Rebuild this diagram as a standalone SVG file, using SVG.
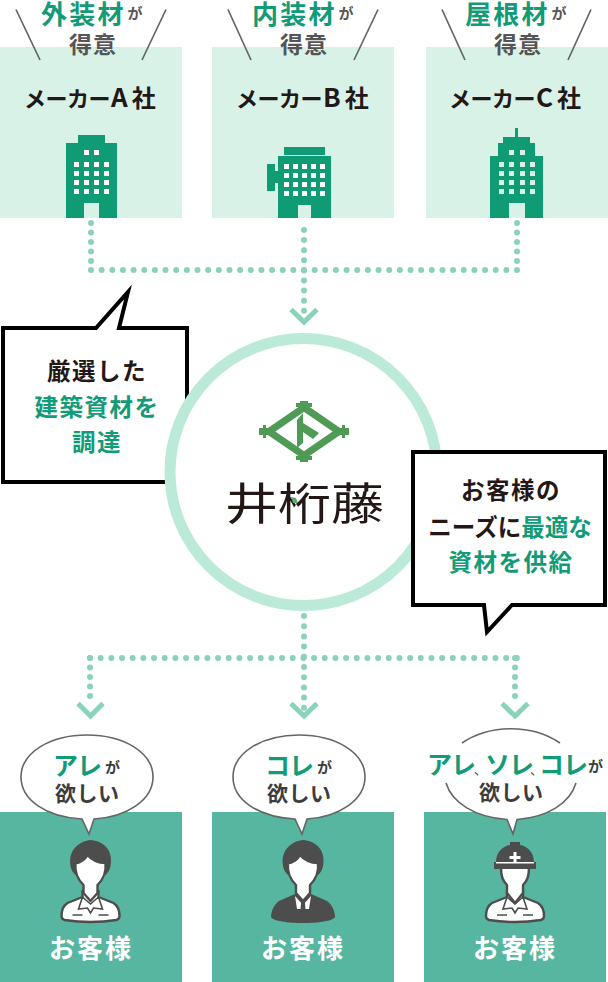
<svg xmlns="http://www.w3.org/2000/svg" xmlns:xlink="http://www.w3.org/1999/xlink" width="608" height="982" viewBox="0 0 608 982">
<style>
text{font-family:"Noto Sans CJK JP","Noto Sans",sans-serif;font-weight:700}
.top{fill:#d8f2e8}.bld{fill:#0f9b74}.win{fill:#fff}.cust{fill:#56b69f}
.g{fill:#119b77}.d{fill:#555}.k{fill:#231815}.w{fill:#fff}.s{fill:#3c3c3c}
.ray{stroke:#666;stroke-width:1.7;fill:none}
.dot{fill:none;stroke:#8ad2bb;stroke-width:6;stroke-linecap:round}
.chev{fill:none;stroke:#8ad2bb;stroke-width:5}
.say{fill:#fff;stroke:#000;stroke-width:4;stroke-miterlimit:10}
.ic{fill:#fff;stroke:#4d4d4d;stroke-width:2.4;stroke-linejoin:round}
.sb{fill:#fff;stroke:#666;stroke-width:1.6}
.ln{fill:none;stroke:#4d4d4d;stroke-width:1.6}
.dk{fill:#4d4d4d}
.t1{font-size:26px;letter-spacing:2.2px}
.ga{font-size:15px}
.t2{font-size:23px;letter-spacing:1px}
.kana{font-size:22px;letter-spacing:-.5px}
.co{font-size:23.5px;letter-spacing:1.5px;text-anchor:middle}
.tight{letter-spacing:0}
.big{font-size:25px;letter-spacing:-1px}
.want{font-size:21px;letter-spacing:.5px}
.okyaku{font-size:26px;letter-spacing:2px;text-anchor:middle}
</style>
<defs>
<g id="torso">
<path class="ic" d="M-8,50V56L-23,62Q-29,66 -29,75Q-29,78 -26,79Q0,83 26,79Q29,78 29,75Q29,66 23,62L8,56V50Z"/>
<path class="ln" d="M-8,56L-12,68L-3,67L0,72L3,67L12,68L8,56M-18,74H-8M8,74H18M-8,56L0,63L8,56"/>
</g>
<g id="head">
<path class="dk" d="M-20,25C-23,8 -10,0 0,-1C12,0 23,8 20,25C19,30 17,32 15,34H-15C-17,32 -19,30 -20,25Z"/>
<path class="ic" d="M-15,22C-10,22 -5,18 -3,14C2,20 10,22 15,22C16,31 13,38 7,44V52L0,60L-7,52V44C-13,38 -16,31 -15,22Z"/>
</g>
</defs>

<g id="connectors">
<path class="dot" d="M91,223V270" stroke-dasharray="0 9.5"/>
<path class="dot" d="M91,270H517" stroke-dasharray="0 10.65"/>
<path class="dot" d="M517,223V270" stroke-dasharray="0 9.5"/>
<path class="dot" d="M304,230V311" stroke-dasharray="0 10.1"/>
<path class="chev" d="M291,309.500L304,322L317,309.500"/>
<path class="dot" d="M304,616V708" stroke-dasharray="0 10.2"/>
<path class="dot" d="M90,658H517" stroke-dasharray="0 10.67"/>
<path class="dot" d="M90,658V704" stroke-dasharray="0 9.5"/>
<path class="dot" d="M515,658V704" stroke-dasharray="0 9.5"/>
<path class="chev" d="M78,703.500L90.500,716L103,703.500"/>
<path class="chev" d="M291,703.500L304,716L317,703.500"/>
<path class="chev" d="M502,703.500L515,716L528,703.500"/>
</g>

<g id="maker-a">
<rect class="top" x="0" y="47" width="182" height="171"/>
<path class="ray" d="M16,9.500L40,60M166,9.500L142,60"/>
<text x="41" y="24" class="t1 g">外装材<tspan class="ga d" dx="2" dy="-5">が</tspan></text>
<text x="69" y="53" class="t2 d">得意</text>
<text x="24" y="107" class="k"><tspan class="kana">メーカー</tspan><tspan font-size="26" dx="1">A</tspan><tspan font-size="24" dx="4">社</tspan></text>
<path class="bld" d="M66,143H78V135H105V143H117V218H99V203H84V218H66Z"/>
<path class="win" d="M84,150h5v5h-5zM94,150h5v5h-5zM74,162h5v5h-5zM84,162h5v5h-5zM94,162h5v5h-5zM104,162h5v5h-5zM74,171h5v5h-5zM84,171h5v5h-5zM94,171h5v5h-5zM104,171h5v5h-5zM74,180h5v5h-5zM84,180h5v5h-5zM94,180h5v5h-5zM104,180h5v5h-5zM74,189h5v5h-5zM84,189h5v5h-5zM94,189h5v5h-5zM104,189h5v5h-5z"/>
</g>

<g id="maker-b">
<rect class="top" x="212" y="47" width="182" height="171"/>
<path class="ray" d="M228,9.500L251,60M378,9.500L354,60"/>
<text x="252" y="24" class="t1 g">内装材<tspan class="ga d" dx="2" dy="-5">が</tspan></text>
<text x="280" y="53" class="t2 d">得意</text>
<text x="236" y="107" class="k"><tspan class="kana">メーカー</tspan><tspan font-size="26" dx="1">B</tspan><tspan font-size="24" dx="4">社</tspan></text>
<path class="bld" d="M284,147H325V155H284ZM278,156H331V218H311V205H298V218H278ZM267,164H275V171H278V183H275V191H267Z"/>
<path class="win" d="M284,164h5v5h-5zM293,164h5v5h-5zM302,164h5v5h-5zM311,164h5v5h-5zM320,164h5v5h-5zM284,173h5v5h-5zM293,173h5v5h-5zM302,173h5v5h-5zM311,173h5v5h-5zM320,173h5v5h-5zM284,182h5v5h-5zM293,182h5v5h-5zM302,182h5v5h-5zM311,182h5v5h-5zM320,182h5v5h-5zM284,191h5v5h-5zM293,191h5v5h-5zM302,191h5v5h-5zM311,191h5v5h-5zM320,191h5v5h-5z"/>
</g>

<g id="maker-c">
<rect class="top" x="426" y="47" width="182" height="171"/>
<path class="ray" d="M442,9.500L465,60M591,9.500L568,60"/>
<text x="465" y="24" class="t1 g">屋根材<tspan class="ga d" dx="2" dy="-5">が</tspan></text>
<text x="494" y="53" class="t2 d">得意</text>
<text x="449" y="107" class="k"><tspan class="kana">メーカー</tspan><tspan font-size="26" dx="1">C</tspan><tspan font-size="24" dx="4">社</tspan></text>
<path class="bld" d="M515,128H518V137H530V143H535V156H543V218H525V203H509V218H490V156H498V143H503V137H515Z"/>
<path class="top" d="M509,150h5v5h-5zM520,150h5v5h-5zM499,162h5v5h-5zM509,162h5v5h-5zM520,162h5v5h-5zM530,162h5v5h-5zM499,171h5v5h-5zM509,171h5v5h-5zM520,171h5v5h-5zM530,171h5v5h-5zM499,180h5v5h-5zM509,180h5v5h-5zM520,180h5v5h-5zM530,180h5v5h-5zM499,189h5v5h-5zM509,189h5v5h-5zM520,189h5v5h-5zM530,189h5v5h-5z"/>
</g>

<g id="callout-left">
<path class="say" d="M3,328H96L128,292L119,328H187V482H3Z"/>
<text x="97" y="380" class="co k">厳選した</text>
<text x="97" y="416" class="co g">建築資材を</text>
<text x="97" y="451" class="co g">調達</text>
</g>

<g id="center">
<circle cx="303.500" cy="472" r="133.500" fill="#fff" stroke="#bcead9" stroke-width="11"/>
<path d="M304,407.500L339,431.500L304,455.500L269,431.500Z" fill="none" stroke="#4f9a55" stroke-width="7"/>
<path fill="#4f9a55" d="M296,403H300V401H308V403H312V407H296ZM296,460H300V462H308V460H312V456H296ZM263,425H266V428H272V435H266V438H263V435H259V428H263ZM345,425H342V428H336V435H342V438H345V435H349V428H345ZM297,420L303,413V423L319,433L313,439L303,432V443L297,448Z"/>
<text transform="translate(304.500,520) scale(1.04,.86)" font-size="51" text-anchor="middle" style="font-weight:400" class="k">井桁藤</text>
<path d="M291,497L296,498L298,503L293,503Z" fill="#5aa86a"/>
</g>

<g id="callout-right">
<path class="say" d="M413,452H605V605H512L487,632L484,605H413Z"/>
<text x="511" y="499" class="co k">お客様の</text>
<text x="510" y="536" class="co tight k">ニーズに<tspan class="g">最適な</tspan></text>
<text x="511" y="571" class="co g">資材を供給</text>
</g>

<g id="customer-a">
<rect class="cust" x="0" y="812" width="182" height="170"/>
<path class="sb" d="M82,819C46,817 21,800 21,777C21,752 51,735 87,735C123,735 153,752 153,777C153,800 127,817 94,819L89,834Z"/>
<text x="53" y="775" class="big g">アレ</text><text x="105" y="773" class="ga s">が</text>
<text x="55" y="801" class="want s">欲しい</text>
<g transform="translate(90.500,841)"><use href="#torso" xlink:href="#torso"/><use href="#head" xlink:href="#head"/></g>
<text x="91" y="958" class="okyaku w">お客様</text>
</g>

<g id="customer-b">
<rect class="cust" x="212" y="812" width="182" height="170"/>
<path class="sb" d="M295,819C258,817 233,800 233,777C233,752 263,735 299,735C335,735 365,752 365,777C365,800 339,817 307,819L302,834Z"/>
<text x="265" y="775" class="big g">コレ</text><text x="317" y="773" class="ga s">が</text>
<text x="267" y="801" class="want s">欲しい</text>
<g transform="translate(303,841)">
<path class="dk" d="M-8,53L-24,60C-30,64 -32,72 -32,76C-30,80 -15,82 0,82C15,82 30,80 32,76C32,72 30,64 24,60L8,53Z"/>
<path fill="#fff" d="M-8,55L0,64L8,55L6,68H-6Z"/>
<path class="dk" d="M-2,62H2L3,76L0,80L-3,76Z"/>
<use href="#head" xlink:href="#head"/></g>
<text x="303" y="958" class="okyaku w">お客様</text>
</g>

<g id="customer-c">
<rect class="cust" x="424" y="812" width="182" height="170"/>
<path fill="#fff" d="M446,783C452,803 475,817 507,819.500L513,834L517,819.500C548,817 570,803 576,783Z"/>
<path fill="none" stroke="#666" stroke-width="1.600" d="M446,783C452,803 475,817 507,819.500L513,834L517,819.500C548,817 570,803 576,783M462,743C490,724 532,724 560,743"/>
<text x="427" y="774" class="big g">アレ</text>
<text x="474" y="774" font-size="13" class="s" style="font-weight:400">、</text>
<text x="485" y="774" class="big g">ソレ</text>
<text x="530" y="774" font-size="13" class="s" style="font-weight:400">、</text>
<text x="539" y="774" class="big g">コレ</text>
<text x="588" y="772" class="ga s">が</text>
<text x="479" y="800" class="want s">欲しい</text>
<g transform="translate(515,841)">
<use href="#torso" xlink:href="#torso"/>
<path class="ic" d="M-14,26C-14,36 -12,40 -8,44V52L0,62L8,52V44C12,40 14,36 14,26Z"/>
<path class="dk" d="M-19,21C-19,11 -12,5 -5,4V1H5V4C12,5 19,11 19,21H21V28H-21V21Z"/>
<path fill="#fff" d="M-19,21H19V22.500H-19ZM-1.500,11H1.500V15H5.500V18H1.500V22H-1.500V18H-5.500V15H-1.500Z"/>
</g>
<text x="515" y="958" class="okyaku w">お客様</text>
</g>
</svg>
